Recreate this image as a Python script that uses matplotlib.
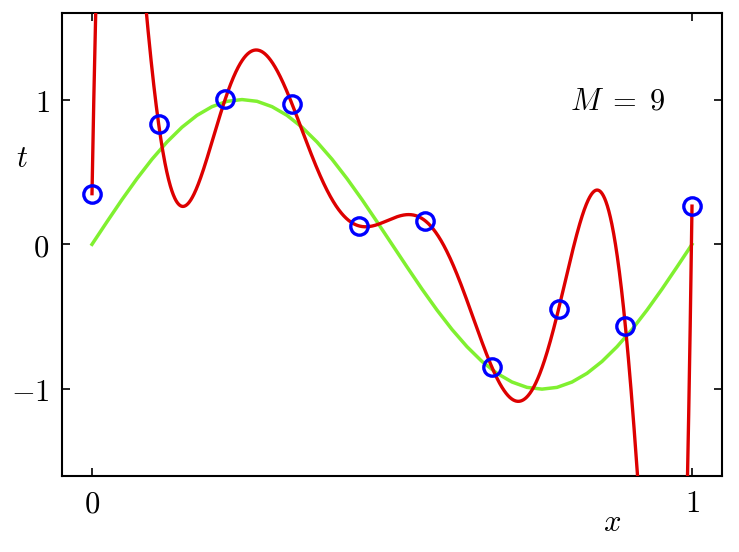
import numpy as np
import matplotlib
matplotlib.use("Agg")
import matplotlib.pyplot as plt

plt.rcParams['mathtext.fontset'] = 'cm'
plt.rcParams['font.family'] = ['DejaVu Serif']

# observed data points (blue circles)
x_data = [0.0, 1/9, 2/9, 3/9, 4/9, 5/9, 6/9, 7/9, 8/9, 1.0]
t_data = [0.35, 0.83, 1.005, 0.97, 0.128, 0.162, -0.85, -0.445, -0.562, 0.264]

# green curve (x step 0.025)
green_x = [i * 0.025 for i in range(41)]
green_y = [0.000, 0.156, 0.309, 0.454, 0.588, 0.707, 0.809, 0.891, 0.951, 0.988, 1.000,
           0.988, 0.951, 0.891, 0.809, 0.707, 0.588, 0.454, 0.309, 0.156, 0.000,
           -0.156, -0.309, -0.454, -0.588, -0.707, -0.809, -0.891, -0.951, -0.988, -1.000,
           -0.988, -0.951, -0.891, -0.809, -0.707, -0.588, -0.454, -0.309, -0.156, 0.000]

degree = 9
x_ticks = [0, 1]
x_tick_labels = ['$0$', '$1$']
y_ticks = [-1, 0, 1]
y_tick_labels = ['$-1$', '$0$', '$1$']

fig = plt.figure(figsize=(7.39, 5.52), dpi=100)
ax = fig.add_axes([0.0839, 0.1377, 0.977 - 0.0839, 0.977 - 0.1377])

# fitted polynomial (M = 9)
coef = np.polyfit(x_data, t_data, degree)
xf = np.linspace(0, 1, 2000)
yf = np.polyval(coef, xf)

ax.plot(green_x, green_y, color='#80f030', lw=2.5, zorder=2, solid_joinstyle='round')
ax.plot(xf, yf, color='#dd0000', lw=2.4, zorder=3)
ax.plot(x_data, t_data, 'o', mfc='none', mec='#0000ff', mew=2.4, ms=12.5, zorder=4)

ax.set_xlim(-0.05, 1.05)
ax.set_ylim(-1.6, 1.6)
ax.set_xticks(x_ticks)
ax.set_xticklabels(x_tick_labels, fontsize=22)
ax.set_yticks(y_ticks)
ax.set_yticklabels(y_tick_labels, fontsize=22)
ax.tick_params(direction='in', length=6, width=1.2, top=True, right=True, pad=9)
for s in ax.spines.values():
    s.set_linewidth(1.5)

ax.text(0.867, -1.92, '$x$', fontsize=22, ha='center', va='center')
ax.text(-0.117, 0.594, '$t$', fontsize=22, ha='center', va='center')
ax.text(0.875, 0.99, r'$M\;=\;9$', fontsize=22, ha='center', va='center')

fig.savefig('out.png', dpi=100)
